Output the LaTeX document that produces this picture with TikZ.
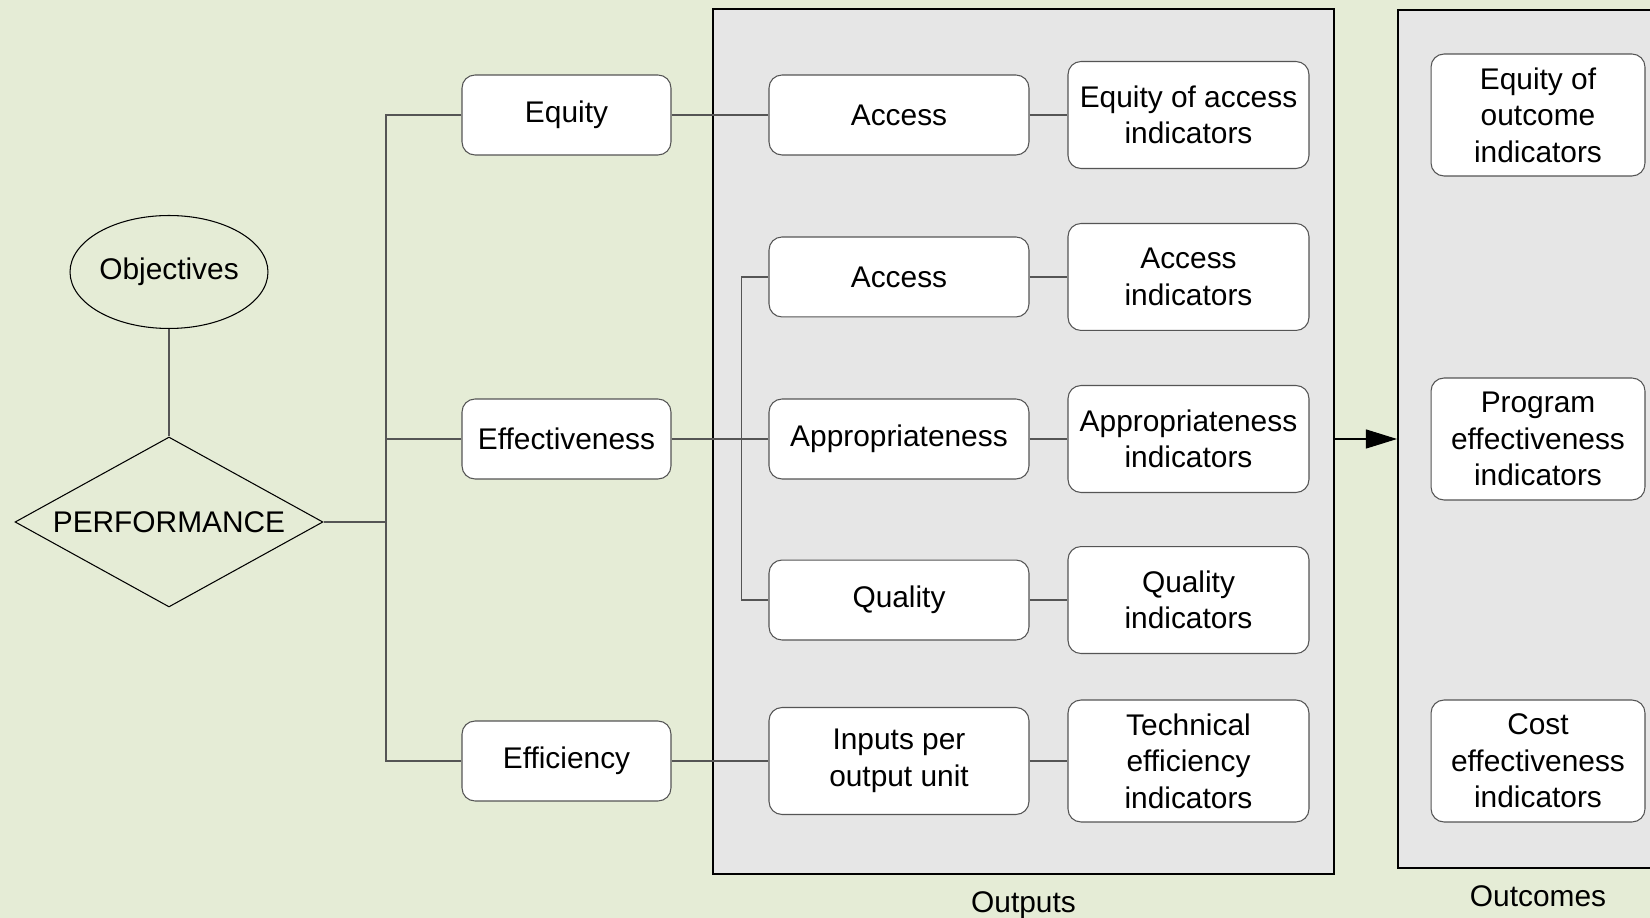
\documentclass[tikz,border=0pt]{standalone}
\usepackage{fontspec}
\setmainfont{Liberation Sans}
\usetikzlibrary{positioning,shapes.geometric,arrows.meta}
\definecolor{bgreen}{RGB}{229,236,214}
\definecolor{framegray}{RGB}{230,230,230}
\definecolor{linegray}{RGB}{85,85,85}
\tikzset{
  every node/.style={font=\fontsize{17}{20.7}\selectfont},
  box/.style={draw=linegray, fill=white, rounded corners=0.26cm, align=center, line width=0.6pt, inner sep=2pt},
  leftbox/.style={box, minimum width=4.18cm, minimum height=1.6cm},
  midbox/.style={box, minimum width=5.2cm, minimum height=1.6cm},
  indbox/.style={box, minimum width=4.82cm, minimum height=2.14cm},
  outbox/.style={box, minimum width=4.28cm, minimum height=2.44cm},
  frame/.style={draw=black, fill=framegray, line width=1.2pt, inner sep=0pt},
  objective/.style={ellipse, draw, line width=0.6pt, minimum width=3.96cm, minimum height=2.26cm, inner sep=0pt},
  perform/.style={diamond, draw, line width=0.6pt, aspect=1.81, minimum width=6.16cm, minimum height=3.4cm, inner sep=0pt},
  link/.style={draw=linegray, line width=0.6pt}
}
\begin{document}
\begin{tikzpicture}[x=0.02cm, y=-0.02cm]
  \fill[bgreen] (0,0) rectangle (1650,918);
  \clip (0,0) rectangle (1650,918);

  % frames
  \node (outputs) [frame, minimum width=12.42cm, minimum height=17.29cm] at (1023.5,441.5) {};
  \node (outcomes) [frame, minimum width=5.6cm, minimum height=17.17cm] at (1538,439) {};
  \node (outlbl) [below=0.22cm of outputs] {Outputs};
  \node (oclbl) [below=0.2cm of outcomes] {Outcomes};

  % left part
  \node (obj) [objective] at (169,272) {Objectives};
  \node (perf) [perform] at (169,522) {PERFORMANCE};
  \coordinate (split) at (386,522);

  \node (equity) [leftbox] at (566.5,115) {Equity};
  \node (effect) [leftbox] at (566.5,439) {Effectiveness};
  \node (effic) [leftbox] at (566.5,761) {Efficiency};

  % outputs
  \node (acc1) [midbox, right=1.94cm of equity] {Access};
  \node (approp) [midbox, right=1.94cm of effect] {Appropriateness};
  \node (acc2) [midbox, above=1.62cm of approp] {Access};
  \node (qual) [midbox, below=1.6cm of approp] {Quality};
  \node (inputs) [midbox, minimum height=2.14cm, right=1.94cm of effic] {Inputs per\\output unit};

  \node (eqacc) [indbox, right=0.76cm of acc1] {Equity of access\\indicators};
  \node (accind) [indbox, right=0.76cm of acc2] {Access\\indicators};
  \node (appind) [indbox, right=0.76cm of approp] {Appropriateness\\indicators};
  \node (qualind) [indbox, right=0.76cm of qual] {Quality\\indicators};
  \node (techind) [indbox, minimum height=2.44cm, right=0.76cm of inputs] {Technical\\efficiency\\indicators};

  % outcomes
  \node (eqout) [outbox] at (1538,115) {Equity of\\outcome\\indicators};
  \node (progeff) [outbox] at (1538,439) {Program\\effectiveness\\indicators};
  \node (costeff) [outbox] at (1538,761) {Cost\\effectiveness\\indicators};

  % connectors
  \draw[link] (obj) -- (perf);
  \draw[link] (perf) -- (split);
  \draw[link] (equity.west) -| (split) |- (effic.west);
  \draw[link] (effect.west) -- (effect.west -| split);
  \foreach \a/\b in {equity/acc1, effect/approp, effic/inputs}
    \draw[link] (\a) -- (\b);
  \draw[link] (acc2.west) -- ++(-27,0) |- (qual.west);
  \foreach \a/\b in {acc1/eqacc, acc2/accind, approp/appind, qual/qualind, inputs/techind}
    \draw[link] (\a) -- (\b);
  \draw[-{Triangle[length=0.62cm,width=0.38cm]}, line width=0.6pt] (outputs.east |- approp) -- (outcomes.west |- approp);
\end{tikzpicture}
\end{document}
